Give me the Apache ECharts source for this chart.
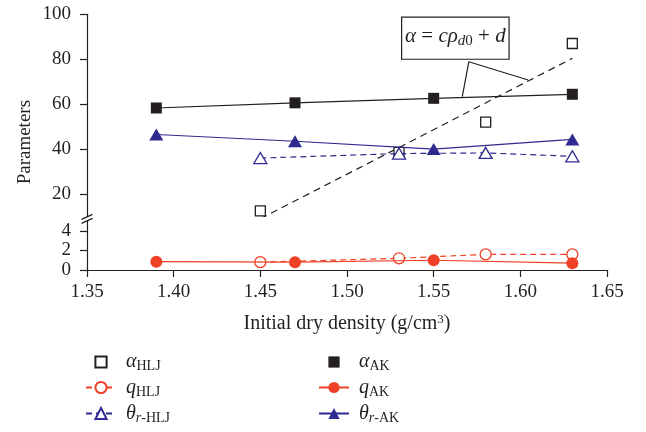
<!DOCTYPE html>
<html>
<head>
<meta charset="utf-8">
<script src="https://cdn.jsdelivr.net/npm/echarts@6/dist/echarts.min.js"></script>
<style>
  html, body { margin: 0; padding: 0; background: #fff; }
  #chart { width: 646px; height: 432px; }
</style>
</head>
<body>
<div id="chart"></div>
<script>
// Initial dry density (g/cm3) of the two soils
const densityAK = [1.39, 1.47, 1.55, 1.63];
const densityHLJ = [1.45, 1.53, 1.58, 1.63];

// Fitted model parameters
const alphaAK = [58.3, 60.6, 62.6, 64.4];
const alphaHLJ = [12.5, 38.5, 52, 87];
const qAK = [0.85, 0.8, 1.0, 0.7];
const qHLJ = [0.8, 1.2, 1.6, 1.6];
const thetaAK = [46.5, 43.5, 40, 44.3];
const thetaHLJ = [36, 38, 38.3, 36.8];

// Linear relation alpha = c * rho_d0 + d for the HLJ soil (end points)
const fitDensity = [1.45, 1.63];
const fitAlpha = [9.0, 80.4];

// Tick values of the broken y axis
const upperTicks = [20, 40, 60, 80, 100];
const lowerTicks = [0, 2, 4];

// Equation callout: box corners and leader line (data coordinates, upper panel)
const calloutBox = [[1.5315, 98.7], [1.5935, 80.0]];
const calloutLeader = [[1.5665, 63.4], [1.5703, 78.9], [1.6045, 70.75]];

// Legend entries: [series name, rich label, column, row]
const legendEntries = [
  ['α_HLJ', '{g|α}{s|HLJ}', 0, 0],
  ['q_HLJ', '{g|q}{s|HLJ}', 0, 1],
  ['θ_r-HLJ', '{g|θ}{si|r}{s|-HLJ}', 0, 2],
  ['α_AK', '{g|α}{s|AK}', 1, 0],
  ['q_AK', '{g|q}{s|AK}', 1, 1],
  ['θ_r-AK', '{g|θ}{si|r}{s|-AK}', 1, 2]
];
const legendColumnLeft = [85, 318];
const legendRowCenter = [362.5, 388, 414];

const FONT = '"Liberation Serif", "DejaVu Serif", serif';
const INK = '#231f20';
const RED = '#ee4125';
const BLUE = '#2e2a8f';

const zip = (xs, ys) => xs.map((x, i) => [x, ys[i]]);

const legendRich = {
  g: { fontFamily: FONT, fontStyle: 'italic', fontSize: 20, color: INK, lineHeight: 22 },
  s: { fontFamily: FONT, fontSize: 14, color: INK, lineHeight: 22, padding: [9, 0, 0, 0] },
  si: { fontFamily: FONT, fontStyle: 'italic', fontSize: 14, color: INK, lineHeight: 22, padding: [9, 0, 0, 0] }
};
const legends = legendEntries.map(([name, label, col, row]) => ({
  orient: 'vertical',
  left: legendColumnLeft[col],
  top: legendRowCenter[row] - 12,
  padding: 0,
  itemWidth: 30,
  itemHeight: 14,
  data: [name],
  formatter: () => label,
  textStyle: { rich: legendRich, padding: [0, 0, 0, 5] }
}));

const axisLineStyle = { color: INK, width: 1.2 };
const tickLabel = { fontFamily: FONT, fontSize: 19, color: INK };

const chart = echarts.init(document.getElementById('chart'), null, { renderer: 'canvas' });

const option = {
  animation: false,
  backgroundColor: '#fff',
  grid: [
    { left: 87, right: 39, top: 14.3, height: 202.2 },
    { left: 87, right: 39, top: 221.2, height: 48.8 }
  ],
  xAxis: [
    { gridIndex: 0, type: 'value', min: 1.35, max: 1.65, show: false },
    {
      gridIndex: 1, type: 'value', min: 1.35, max: 1.65, interval: 0.05,
      axisLine: { lineStyle: axisLineStyle },
      axisTick: { length: 7, lineStyle: axisLineStyle },
      axisLabel: Object.assign({ margin: 13, formatter: v => v.toFixed(2) }, tickLabel),
      splitLine: { show: false },
      name: 'Initial dry density (g/cm{sup|3})',
      nameLocation: 'middle',
      nameGap: 43,
      nameTextStyle: {
        fontFamily: FONT, fontSize: 20, color: INK,
        rich: { sup: { fontFamily: FONT, fontSize: 13, color: INK, padding: [0, 0, 9, 0] } }
      }
    }
  ],
  yAxis: [
    {
      gridIndex: 0, type: 'value', min: 10, max: 100,
      axisLine: { show: true, lineStyle: axisLineStyle },
      axisTick: { show: true, length: 7, lineStyle: axisLineStyle, customValues: upperTicks },
      axisLabel: Object.assign({ margin: 16, customValues: upperTicks }, tickLabel),
      splitLine: { show: false }
    },
    {
      gridIndex: 1, type: 'value', min: 0, max: 5,
      axisLine: { show: true, lineStyle: axisLineStyle },
      axisTick: { show: true, length: 7, lineStyle: axisLineStyle, customValues: lowerTicks },
      axisLabel: Object.assign({ margin: 16, customValues: lowerTicks }, tickLabel),
      splitLine: { show: false }
    }
  ],
  legend: legends,
  series: [
    {
      name: 'fit', type: 'line', xAxisIndex: 0, yAxisIndex: 0, clip: true,
      data: zip(fitDensity, fitAlpha), symbol: 'none', z: 2,
      lineStyle: { color: INK, width: 1.2, type: [7, 5] }
    },
    {
      name: 'callout', type: 'line', xAxisIndex: 0, yAxisIndex: 0,
      data: calloutLeader, symbol: 'none', z: 2,
      lineStyle: { color: INK, width: 1.2 }
    },
    {
      name: 'α_AK line', type: 'line', xAxisIndex: 0, yAxisIndex: 0,
      data: zip(densityAK, alphaAK), symbol: 'none', z: 2,
      lineStyle: { color: INK, width: 1.2 }
    },
    {
      name: 'α_HLJ', type: 'line', xAxisIndex: 0, yAxisIndex: 0,
      data: zip(densityHLJ, alphaHLJ), symbol: 'rect', symbolSize: 10, z: 3,
      itemStyle: { color: '#fff', borderColor: INK, borderWidth: 1.3 },
      lineStyle: { opacity: 0 }
    },
    {
      name: 'α_AK', type: 'line', xAxisIndex: 0, yAxisIndex: 0,
      data: zip(densityAK, alphaAK), symbol: 'rect', symbolSize: 11, z: 4,
      itemStyle: { color: INK },
      lineStyle: { opacity: 0 }
    },
    {
      name: 'θ_r-HLJ', type: 'line', xAxisIndex: 0, yAxisIndex: 0,
      data: zip(densityHLJ, thetaHLJ), symbol: 'triangle', symbolSize: [13, 11], z: 5,
      itemStyle: { color: '#fff', borderColor: BLUE, borderWidth: 1.3 },
      lineStyle: { color: BLUE, width: 1.2, type: [6, 4] }
    },
    {
      name: 'θ_r-AK', type: 'line', xAxisIndex: 0, yAxisIndex: 0,
      data: zip(densityAK, thetaAK), symbol: 'triangle', symbolSize: [14, 12], z: 6,
      itemStyle: { color: BLUE },
      lineStyle: { color: BLUE, width: 1.2 }
    },
    {
      name: 'q_HLJ', type: 'line', xAxisIndex: 1, yAxisIndex: 1,
      data: zip(densityHLJ, qHLJ), symbol: 'circle', symbolSize: 11, z: 5,
      itemStyle: { color: '#fff', borderColor: RED, borderWidth: 1.3 },
      lineStyle: { color: RED, width: 1.2, type: [6, 4] }
    },
    {
      name: 'q_AK', type: 'line', xAxisIndex: 1, yAxisIndex: 1,
      data: zip(densityAK, qAK), symbol: 'circle', symbolSize: 12, z: 6,
      itemStyle: { color: RED },
      lineStyle: { color: RED, width: 1.2 }
    }
  ]
};

chart.setOption(option);

// Annotation elements positioned from the panels' coordinate systems
const p0 = chart.convertToPixel({ gridIndex: 0 }, calloutBox[0]);
const p1 = chart.convertToPixel({ gridIndex: 0 }, calloutBox[1]);
const axisX = chart.convertToPixel({ gridIndex: 0 }, [1.35, 10])[0];
const upperTop = chart.convertToPixel({ gridIndex: 0 }, [1.35, 100])[1];
const upperBottom = chart.convertToPixel({ gridIndex: 0 }, [1.35, 10])[1];
const lowerTop = chart.convertToPixel({ gridIndex: 1 }, [1.35, 5])[1];
const lowerBottom = chart.convertToPixel({ gridIndex: 1 }, [1.35, 0])[1];
const breakMid = (upperBottom + lowerTop) / 2;

chart.setOption({
  graphic: [
    // axis break marks
    { type: 'line', shape: { x1: axisX - 5.5, y1: breakMid + 0.5, x2: axisX + 5.5, y2: breakMid - 4.5 },
      style: { stroke: INK, lineWidth: 1.2 }, z: 10 },
    { type: 'line', shape: { x1: axisX - 5.5, y1: breakMid + 4.5, x2: axisX + 5.5, y2: breakMid - 0.5 },
      style: { stroke: INK, lineWidth: 1.2 }, z: 10 },
    // y axis title across both panels
    { type: 'text', x: 25, y: (upperTop + lowerBottom) / 2, rotation: Math.PI / 2,
      style: { text: 'Parameters', fontFamily: FONT, fontSize: 19, fill: INK, align: 'center', verticalAlign: 'middle' } },
    // equation box
    { type: 'rect', shape: { x: p0[0], y: p0[1], width: p1[0] - p0[0], height: p1[1] - p0[1] },
      style: { fill: '#fff', stroke: INK, lineWidth: 1.2 }, z: 10 },
    { type: 'text', x: (p0[0] + p1[0]) / 2, y: (p0[1] + p1[1]) / 2 - 2, z: 11,
      style: {
        text: '{i|α} = {i|cρ}{si|d}{s|0} + {i|d}',
        align: 'center', verticalAlign: 'middle',
        fontFamily: FONT, fontSize: 21, fill: INK,
        rich: {
          i: { fontFamily: FONT, fontStyle: 'italic', fontSize: 21, lineHeight: 24 },
          si: { fontFamily: FONT, fontStyle: 'italic', fontSize: 15, lineHeight: 24, padding: [9, 0, 0, 0] },
          s: { fontFamily: FONT, fontSize: 15, lineHeight: 24, padding: [9, 0, 0, 0] }
        }
      } }
  ]
});
</script>
</body>
</html>
